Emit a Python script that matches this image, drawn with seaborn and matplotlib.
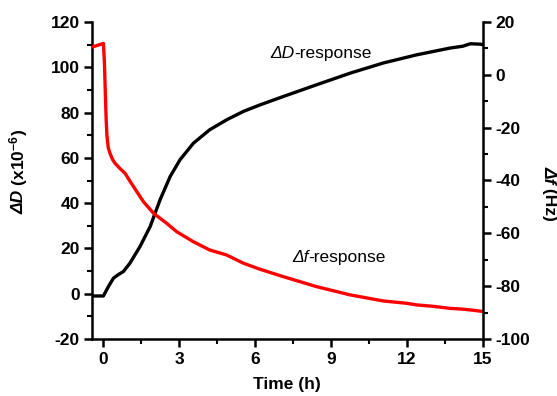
import matplotlib
matplotlib.use("Agg")
import matplotlib.pyplot as plt
import seaborn as sns
from matplotlib.ticker import MultipleLocator

# ΔD response (left axis, x10^-6)
t_D = [-0.45, 0.0, 0.2, 0.4, 0.6, 0.79, 1.05, 1.45, 1.85, 2.24, 2.64, 3.03,
       3.56, 4.2, 4.87, 5.53, 6.19, 7.11, 8.43, 9.75, 11.06, 12.38, 13.7,
       14.2, 14.5, 14.9, 15.0]
D = [-1.0, -1.0, 3.2, 6.9, 8.5, 9.8, 13.5, 20.9, 29.7, 41.5, 51.8, 59.2,
     66.5, 72.4, 76.8, 80.5, 83.4, 87.1, 92.3, 97.4, 101.9, 105.5, 108.5,
     109.3, 110.4, 110.2, 110.0]

# Δf response (right axis, Hz)
t_f = [-0.45, 0.0, 0.04, 0.08, 0.11, 0.14, 0.19, 0.26, 0.36, 0.46, 0.66, 0.86,
       1.0, 1.19, 1.58, 1.98, 2.5, 2.9, 3.56, 4.2, 4.87, 5.53, 6.19, 7.11,
       8.43, 9.75, 11.06, 12.0, 12.38, 13.0, 13.7, 14.2, 14.6, 15.0]
f = [10.5, 11.9, 5.0, -8.0, -17.0, -23.0, -27.5, -29.7, -32.0, -33.5, -35.5, -37.3,
     -39.5, -42.3, -48.0, -52.4, -56.2, -59.4, -63.2, -66.3, -68.2, -71.3, -73.6, -76.4,
     -80.2, -83.3, -85.6, -86.5, -87.1, -87.6, -88.4, -88.7, -89.1, -89.6]

yl_ticks = [-20, 0, 20, 40, 60, 80, 100, 120]
yr_ticks = [-100, -80, -60, -40, -20, 0, 20]
x_ticks = [0, 3, 6, 9, 12, 15]

sns.set_style("ticks")
plt.rcParams['font.family'] = ['Liberation Sans', 'DejaVu Sans']
plt.rcParams['axes.unicode_minus'] = False
plt.rcParams['text.color'] = 'black'
plt.rcParams['axes.labelcolor'] = 'black'
plt.rcParams['mathtext.fontset'] = 'custom'
plt.rcParams['mathtext.rm'] = 'Liberation Sans:bold'
plt.rcParams['mathtext.it'] = 'Liberation Sans:bold:italic'
plt.rcParams['mathtext.bf'] = 'Liberation Sans:bold'

fig = plt.figure(figsize=(5.57, 3.96), dpi=100)
ax = fig.add_axes([92/557, 1-339/396, (483-92)/557, (339-22)/396])
ax2 = ax.twinx()

sns.lineplot(x=t_D, y=D, ax=ax, color='black', lw=2.4, sort=False, estimator=None)
sns.lineplot(x=t_f, y=f, ax=ax2, color='#ff0000', lw=2.4, sort=False, estimator=None)

ax.set_xlim(-0.45, 15)
ax.set_ylim(-20, 120)
ax2.set_ylim(-100, 20)
ax.set_xticks(x_ticks)
ax.set_yticks(yl_ticks)
ax2.set_yticks(yr_ticks)
ax.xaxis.set_minor_locator(MultipleLocator(1.5))
ax.yaxis.set_minor_locator(MultipleLocator(10))
ax2.yaxis.set_minor_locator(MultipleLocator(10))

for a in (ax, ax2):
    a.spines['top'].set_visible(False)
    for s in ('left', 'right', 'bottom'):
        a.spines[s].set_linewidth(1.8)
        a.spines[s].set_color('black')
    a.tick_params(which='major', direction='out', length=6, width=1.8,
                  labelsize=12.5, pad=3, colors='black')
    a.tick_params(which='minor', direction='out', length=3.5, width=1.5,
                  colors='black')
    for lab in a.get_xticklabels() + a.get_yticklabels():
        lab.set_fontweight('bold')
ax.spines['right'].set_visible(False)
ax2.spines['left'].set_visible(False)
ax2.spines['bottom'].set_visible(False)
ax.set_xlabel('')
ax.set_ylabel('')
ax2.set_ylabel('')

FS = 12.5
# left y label: italic bold "ΔD" then bold " (x10^-6)" stacked upward
t1 = fig.text(19/557, 1-214/396, 'ΔD', rotation=90, ha='center', va='bottom',
              fontsize=FS, fontweight='bold', fontstyle='italic', color='black')
ax.annotate(r' (x10$^{-6}$)', xy=(0.5, 1), xycoords=t1, rotation=90,
            ha='center', va='bottom', fontsize=FS, fontweight='bold',
            color='black', annotation_clip=False)
# right y label: reads top to bottom
t2 = fig.text(549/557, 1-166/396, 'Δf', rotation=270, ha='center', va='top',
              fontsize=FS, fontweight='bold', fontstyle='italic', color='black')
ax.annotate(' (Hz)', xy=(0.5, 0), xycoords=t2, rotation=270,
            ha='center', va='top', fontsize=FS, fontweight='bold',
            color='black', annotation_clip=False)
fig.text(287/557, 1-385/396, 'Time (h)', ha='center', va='center',
         fontsize=FS, fontweight='bold', color='black')

# in-plot annotations
a1 = ax.text(6.6, 106, 'ΔD', ha='left', va='center', fontsize=12.5,
             fontstyle='italic', color='black')
ax.annotate('-response', xy=(1, 0.5), xycoords=a1, ha='left', va='center',
            fontsize=12.5, color='black')
a2 = ax.text(7.45, 15.9, 'Δf', ha='left', va='center', fontsize=12.5,
             fontstyle='italic', color='black')
ax.annotate('-response', xy=(1, 0.5), xycoords=a2, ha='left', va='center',
            fontsize=12.5, color='black')

fig.savefig('out.png', dpi=100)
